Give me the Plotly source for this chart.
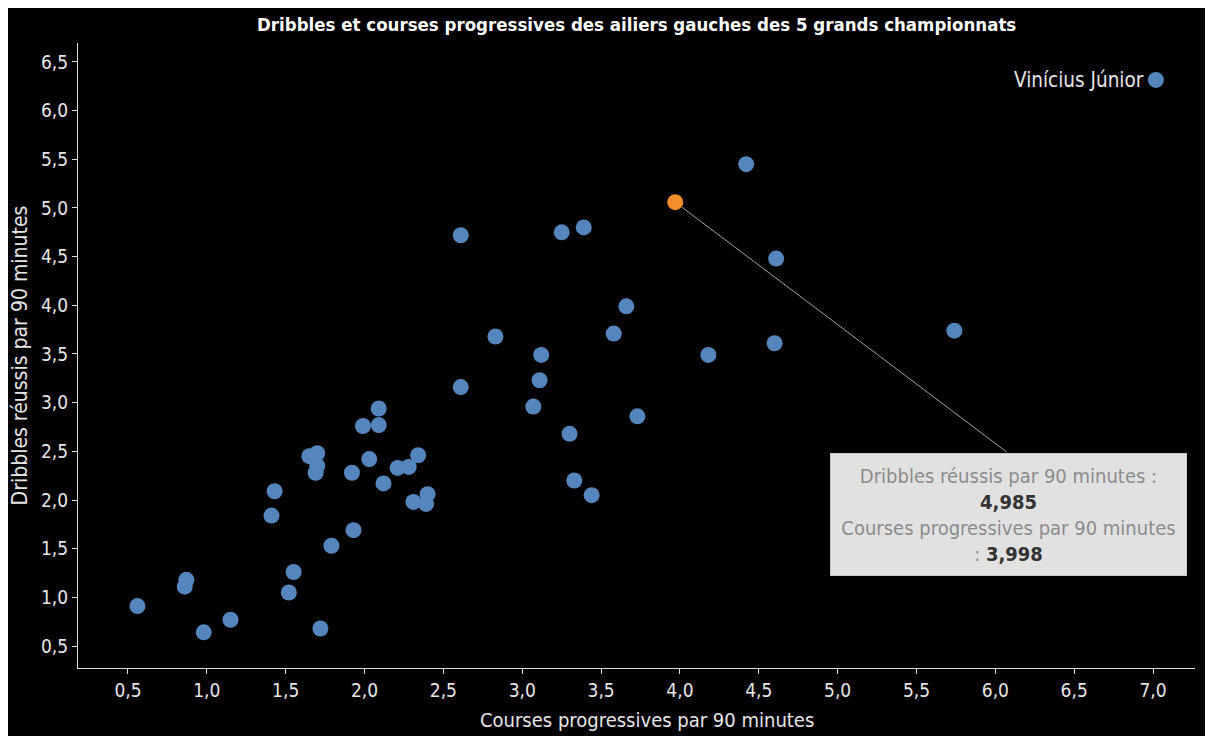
import plotly.graph_objects as go

# ---- data ----
player_name = "Vinícius Júnior"
courses = [0.56, 0.87, 0.86, 0.98, 1.15, 1.43, 1.41, 1.52, 1.55, 1.72,
           1.79, 1.65, 1.70, 1.70, 1.69, 1.92, 1.93, 1.99, 2.09, 2.09,
           2.03, 2.12, 2.21, 2.28, 2.34, 2.31, 2.40, 2.39, 2.61, 2.61,
           2.83, 3.07, 3.11, 3.12, 3.25, 3.39, 3.30, 3.33, 3.44, 3.58,
           3.66, 3.73, 4.18, 4.42, 4.61, 4.60, 5.74]
dribbles = [0.91, 1.18, 1.11, 0.64, 0.77, 2.09, 1.84, 1.05, 1.26, 0.68,
            1.53, 2.45, 2.48, 2.35, 2.28, 2.28, 1.69, 2.76, 2.94, 2.77,
            2.42, 2.17, 2.33, 2.34, 2.46, 1.98, 2.06, 1.96, 4.72, 3.16,
            3.68, 2.96, 3.23, 3.49, 4.75, 4.80, 2.68, 2.20, 2.05, 3.71,
            3.99, 2.86, 3.49, 5.45, 4.48, 3.61, 3.74]
highlight_courses = [3.97]
highlight_dribbles = [5.06]
tooltip_dribbles = "4,985"
tooltip_courses = "3,998"

x_ticks = [0.5, 1.0, 1.5, 2.0, 2.5, 3.0, 3.5, 4.0, 4.5, 5.0, 5.5, 6.0, 6.5, 7.0]
y_ticks = [0.5, 1.0, 1.5, 2.0, 2.5, 3.0, 3.5, 4.0, 4.5, 5.0, 5.5, 6.0, 6.5]

title_text = "Dribbles et courses progressives des ailiers gauches des 5 grands championnats"
x_title = "Courses progressives par 90 minutes"
y_title = "Dribbles réussis par 90 minutes"

# ---- style ----
FONT = "DejaVu Sans Condensed, DejaVu Sans, sans-serif"
BLUE = "#5585bd"
ORANGE = "#f28e2b"
TXT = "#e6e6e6"

fig = go.Figure()
fig.add_trace(go.Scatter(
    x=courses, y=dribbles, mode="markers", name=player_name,
    marker=dict(size=16, color=BLUE, line=dict(width=0)),
    showlegend=False, hoverinfo="skip"))
fig.add_trace(go.Scatter(
    x=highlight_courses, y=highlight_dribbles, mode="markers",
    marker=dict(size=16, color=ORANGE, line=dict(width=0)),
    showlegend=False, hoverinfo="skip"))

axis_common = dict(
    showgrid=False, zeroline=False, showline=True, linecolor="#d9d9d9",
    linewidth=1, ticks="outside", ticklen=5, tickcolor="#d9d9d9",
    tickfont=dict(family=FONT, size=19, color=TXT), tickformat=".1f",
)
fig.update_xaxes(range=[0.183, 7.266], tickvals=x_ticks, **axis_common)
fig.update_yaxes(range=[0.274, 6.695], tickvals=y_ticks,
                 title=dict(text=y_title, font=dict(family=FONT, size=21, color=TXT), standoff=8),
                 **axis_common)

tip = (f"<span style='color:#8c8c8c'>Dribbles réussis par 90 minutes :</span><br>"
       f"<b>{tooltip_dribbles}</b><br>"
       f"<span style='color:#8c8c8c'>Courses progressives par 90 minutes</span><br>"
       f"<span style='color:#8c8c8c'>:</span> <b>{tooltip_courses}</b>")

annotations = [
    dict(text=f"<b>{title_text}</b>", x=0.5, xref="paper", xanchor="center",
         y=1.0, yanchor="bottom", yshift=6, yref="paper", showarrow=False,
         font=dict(family=FONT, size=18.5, color="#ffffff")),
    dict(text=x_title, x=0.5, xref="paper", xanchor="center", xshift=10,
         y=0.0, yref="paper", yanchor="top", yshift=-38, showarrow=False,
         font=dict(family=FONT, size=20, color=TXT)),
    dict(text=player_name, xref="paper", yref="paper", x=0.956, y=0.941,
         xanchor="right", yanchor="middle", showarrow=False,
         font=dict(family=FONT, size=20.5, color=TXT)),
    # leader line from highlighted point to top of tooltip box
    dict(text="", x=highlight_courses[0], y=highlight_dribbles[0],
         xref="x", yref="y", ax=333, ay=251, axref="pixel", ayref="pixel",
         showarrow=True, arrowhead=0, arrowwidth=1, arrowcolor="#a0a0a0",
         standoff=8, font=dict(size=1)),
    # tooltip box
    dict(text=tip, x=highlight_courses[0], y=highlight_dribbles[0],
         xref="x", yref="y", xshift=333, yshift=-312, showarrow=False,
         xanchor="center", yanchor="middle",
         bgcolor="#e1e1e1", bordercolor="#c8c8c8", borderwidth=1,
         borderpad=6, width=343, height=109, align="center",
         font=dict(family=FONT, size=20, color="#333333")),
]

shapes = [
    dict(type="circle", xref="paper", yref="paper", xsizemode="pixel", ysizemode="pixel",
         xanchor=0.965, yanchor=0.941, x0=-8, x1=8, y0=-8, y1=8,
         fillcolor=BLUE, line=dict(width=0)),
]

fig.update_layout(
    width=1197, height=728,
    margin=dict(l=70, r=10, t=35, b=68),
    paper_bgcolor="#000000", plot_bgcolor="#000000",
    separators=", ",
    annotations=annotations, shapes=shapes,
    font=dict(family=FONT, color=TXT),
)

fig.write_html("out.html")
